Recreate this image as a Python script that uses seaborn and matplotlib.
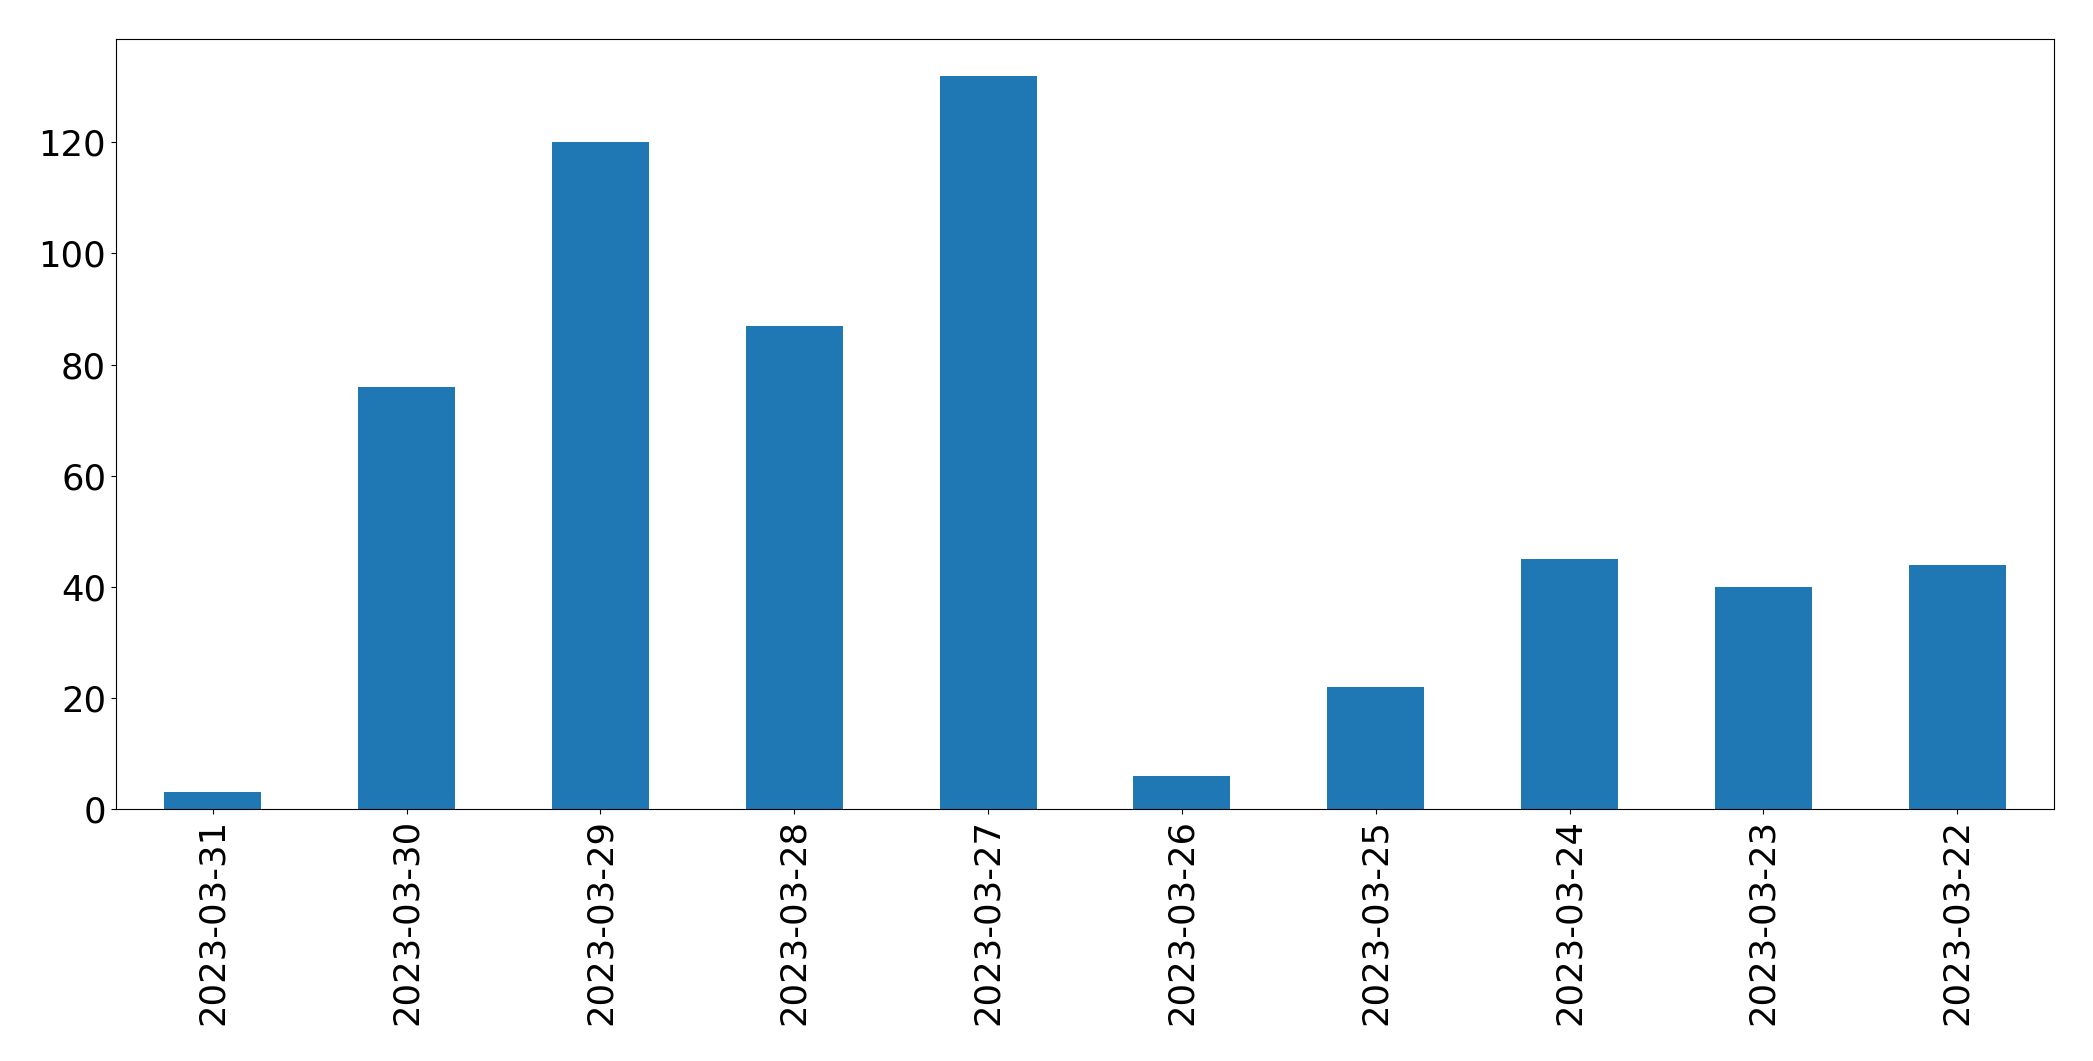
import matplotlib
matplotlib.use("Agg")
import matplotlib.pyplot as plt
import seaborn as sns

# daily counts, newest first (as in the original pandas value_counts output)
dates = ['2023-03-31', '2023-03-30', '2023-03-29', '2023-03-28', '2023-03-27',
         '2023-03-26', '2023-03-25', '2023-03-24', '2023-03-23', '2023-03-22']
counts = [3, 76, 120, 87, 132, 6, 22, 45, 40, 44]

fig, ax = plt.subplots(figsize=(20.93, 10.61), dpi=100)
sns.barplot(x=dates, y=counts, order=dates, color='#1f77b4', saturation=1,
            width=0.5, linewidth=0, ax=ax)

ax.set_xlim(-0.5, len(dates) - 0.5)
ax.set_ylim(0, max(counts) * 1.05)
ax.tick_params(axis='both', labelsize=25.5)
ax.tick_params(axis='x', labelrotation=90)
ax.set_xlabel('')
ax.set_ylabel('')

fig.subplots_adjust(left=0.0554, right=0.9814, top=0.9632, bottom=0.2375)
fig.savefig('out.png', dpi=100)
